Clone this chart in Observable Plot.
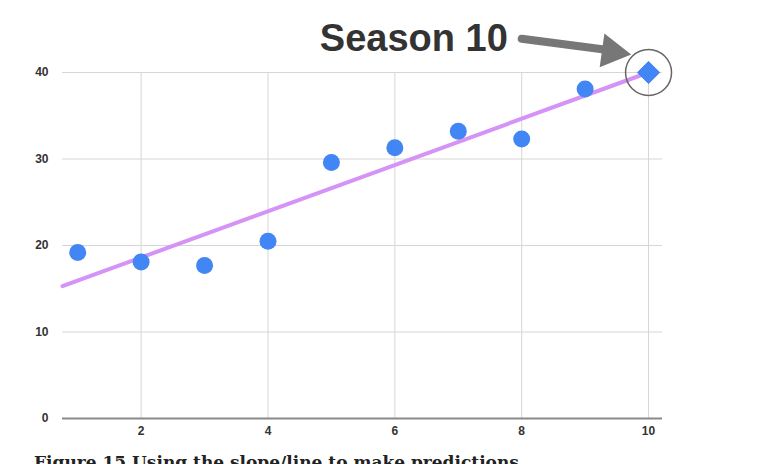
<!DOCTYPE html>
<html>
<head>
<meta charset="utf-8">
<script src="https://cdn.jsdelivr.net/npm/d3@7"></script>
<script src="https://cdn.jsdelivr.net/npm/@observablehq/plot@0.6"></script>
<style>
  body { margin: 0; width: 760px; height: 464px; overflow: hidden; background: #fff; font-family: "Liberation Sans", Arial, sans-serif; position: relative; }
  #caption { position: absolute; left: 34px; top: 452px; font: bold 17px "DejaVu Serif", serif; color: #222; white-space: nowrap; }
</style>
</head>
<body>
<div id="chart"></div>
<div id="caption">Figure 15 Using the slope/line to make predictions</div>
<script>
const seasons = [1, 2, 3, 4, 5, 6, 7, 8, 9]
const scores = [19.2, 18.1, 17.7, 20.5, 29.6, 31.3, 33.2, 32.3, 38.1]
const predicted = {season: 10, score: 40}
const trendX = [0.76, 10]
const trendY = [15.3, 40]
const xTicks = [2, 4, 6, 8, 10]
const yTicks = [0, 10, 20, 30, 40]
const label = "Season 10"

const points = seasons.map((s, i) => ({season: s, score: scores[i]}))
const trend = trendX.map((x, i) => ({season: x, score: trendY[i]}))
// annotation arrow, in data units
const shaft = [{season: 8.0, score: 43.9}, {season: 9.3, score: 42.65}]
const head = [{season: 9.42, score: 42.4}]

const chart = Plot.plot({
  width: 760,
  height: 440,
  marginLeft: 62,
  marginRight: 98,
  marginTop: 72,
  marginBottom: 22,
  style: {fontFamily: "Liberation Sans, Arial, sans-serif", fontSize: "12px", color: "#333"},
  x: {domain: [0.76, 10.22], ticks: xTicks, tickSize: 0, tickPadding: 8, label: null},
  y: {domain: [0, 40], ticks: yTicks, tickSize: 0, tickPadding: 14, label: null},
  marks: [
    Plot.gridX(xTicks, {stroke: "#d6d6d6", strokeOpacity: 1}),
    Plot.gridY(yTicks.slice(1), {stroke: "#d6d6d6", strokeOpacity: 1}),
    Plot.axisX({ticks: xTicks, tickSize: 0, tickPadding: 8, fontWeight: 600}),
    Plot.axisY({ticks: yTicks, tickSize: 0, tickPadding: 14, fontWeight: 600}),
    Plot.ruleY([0], {stroke: "#8a8a8a", strokeWidth: 2}),
    Plot.line(trend, {x: "season", y: "score", stroke: "#d593f5", strokeWidth: 4}),
    Plot.dot(points, {x: "season", y: "score", r: 8.5, fill: "#4285f4"}),
    Plot.dot([predicted], {x: "season", y: "score", symbol: "diamond2", r: 10, fill: "#4285f4", stroke: "#4285f4", strokeWidth: 1}),
    Plot.dot([predicted], {x: "season", y: "score", r: 23, stroke: "#666", strokeWidth: 1.5, fill: "none"}),
    Plot.line(shaft, {x: "season", y: "score", stroke: "#777", strokeWidth: 8}),
    Plot.dot(head, {x: "season", y: "score", symbol: "triangle2", r: 15, fill: "#777", stroke: "#777", rotate: 98}),
    Plot.text([label], {x: 6.3, y: 43.9, text: d => d, fontSize: 38, fontWeight: "bold", fill: "#333", textAnchor: "middle"})
  ]
})
chart.style.overflow = "visible"
document.getElementById("chart").append(chart)
</script>
</body>
</html>
